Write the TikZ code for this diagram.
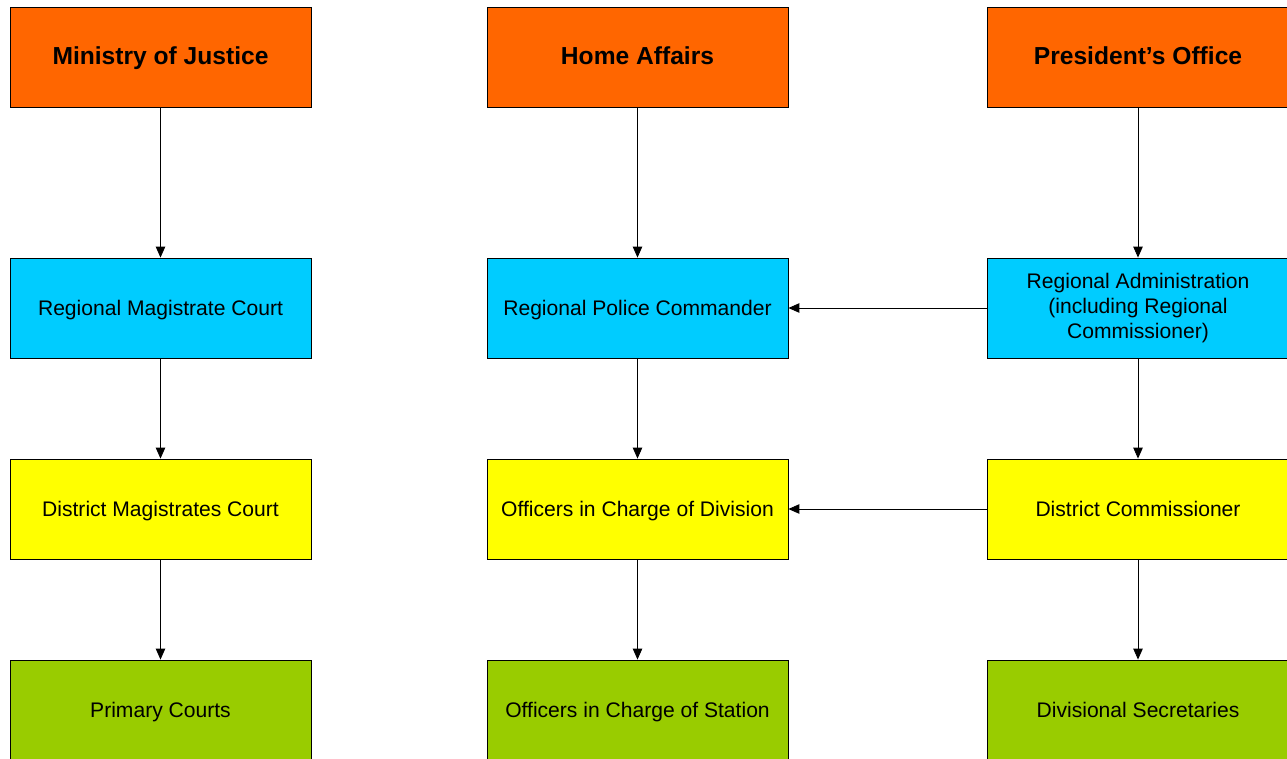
\documentclass[tikz,border=0pt]{standalone}
\usepackage{fontspec}
\setmainfont{Liberation Sans}
\usepackage{xcolor}
\usetikzlibrary{arrows.meta}
\definecolor{orghead}{HTML}{FF6600}
\definecolor{orgregion}{HTML}{00CCFF}
\definecolor{orgdistrict}{HTML}{FFFF00}
\definecolor{orglocal}{HTML}{99CC00}

\begin{document}
\begin{tikzpicture}[x=0.02cm, y=-0.02cm,
  multibox/.style={draw=black, line width=0.5pt, minimum width=6.02cm, minimum height=2cm, align=center, inner sep=2pt, font=\fontsize{12}{14.2}\selectfont},
  orgbox/.style={multibox, text height=0.87em, text depth=0.07em},
  headbox/.style={orgbox, fill=orghead, font=\fontsize{14}{16}\selectfont\bfseries},
  arr/.style={-{Triangle[length=2.2mm, width=1.9mm]}, black, line width=0.5pt}
]
  \useasboundingbox (0,0) rectangle (1287,758);

  % top level
  \node[headbox] (justice) at (160.5,57) {Ministry of Justice};
  \node[headbox] (home) at (637.5,57) {Home Affairs};
  \node[headbox] (president) at (1138,57) {President’s Office};

  % regional level
  \node[orgbox, fill=orgregion] (rmc) at (160.5,308) {Regional Magistrate Court};
  \node[orgbox, fill=orgregion] (rpc) at (637.5,308) {Regional Police Commander};
  \node[multibox, fill=orgregion] (radmin) at (1138,308) {Regional Administration\\(including Regional\\Commissioner)};

  % district level
  \node[orgbox, fill=orgdistrict] (dmc) at (160.5,509) {District Magistrates Court};
  \node[orgbox, fill=orgdistrict] (ocd) at (637.5,509) {Officers in Charge of Division};
  \node[orgbox, fill=orgdistrict] (dc) at (1138,509) {District Commissioner};

  % lowest level
  \node[orgbox, fill=orglocal] (pc) at (160.5,710) {Primary Courts};
  \node[orgbox, fill=orglocal] (ocs) at (637.5,710) {Officers in Charge of Station};
  \node[orgbox, fill=orglocal] (ds) at (1138,710) {Divisional Secretaries};

  \foreach \a/\b in {justice/rmc, rmc/dmc, dmc/pc, home/rpc, rpc/ocd, ocd/ocs, president/radmin, radmin/dc, dc/ds}
    \draw[arr] (\a.south) -- (\b.north);

  \draw[arr] (radmin.west) -- (rpc.east);
  \draw[arr] (dc.west) -- (ocd.east);
\end{tikzpicture}
\end{document}
